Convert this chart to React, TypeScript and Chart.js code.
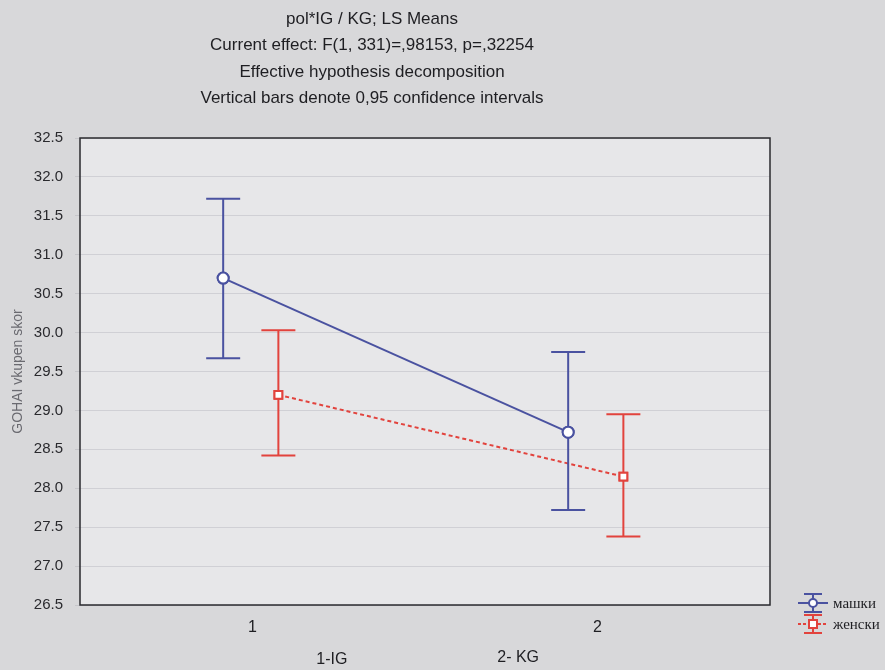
import React, { useEffect, useRef } from "react";
import { Chart, registerables } from "chart.js";

Chart.register(...registerables);

const titleLines = [
  "pol*IG / KG; LS Means",
  "Current effect: F(1, 331)=,98153, p=,32254",
  "Effective hypothesis decomposition",
  "Vertical bars denote 0,95 confidence intervals",
];
const groupPositions = [1, 2];
const groupTicks = ["1", "2"];
const groupNames = ["1-IG", "2- KG"];
const seriesNames = ["машки", "женски"];
const maleMeans = [30.7, 28.72];
const maleLow = [29.67, 27.72];
const maleHigh = [31.72, 29.75];
const femaleMeans = [29.2, 28.15];
const femaleLow = [28.42, 27.38];
const femaleHigh = [30.03, 28.95];
const seriesOffsets = [-0.085, 0.075];
const yTitle = "GOHAI vkupen skor";

const BLUE = "#4a52a0";
const RED = "#e2433d";

export default function App() {
  const ref = useRef<HTMLCanvasElement>(null);
  useEffect(() => {
    document.body.style.margin = "0";
    document.body.style.background = "#d8d8da";
    const lows = [maleLow, femaleLow];
    const highs = [maleHigh, femaleHigh];
    const colors = [BLUE, RED];
    const errPlugin = {
      id: "extras",
      beforeDraw(chart: any) {
        const { ctx, chartArea: a } = chart;
        ctx.save();
        ctx.fillStyle = "#e7e7e9";
        ctx.fillRect(a.left, a.top, a.right - a.left, a.bottom - a.top);
        ctx.restore();
      },
      afterDatasetsDraw(chart: any) {
        const { ctx } = chart;
        const xs = chart.scales.x;
        const ys = chart.scales.y;
        ctx.save();
        chart.data.datasets.forEach((ds: any, i: number) => {
          ctx.strokeStyle = colors[i];
          ctx.lineWidth = 2;
          ds.data.forEach((p: any, j: number) => {
            const x = xs.getPixelForValue(p.x);
            const y1 = ys.getPixelForValue(lows[i][j]);
            const y2 = ys.getPixelForValue(highs[i][j]);
            ctx.beginPath();
            ctx.moveTo(x, y1);
            ctx.lineTo(x, y2);
            ctx.moveTo(x - 17, y1);
            ctx.lineTo(x + 17, y1);
            ctx.moveTo(x - 17, y2);
            ctx.lineTo(x + 17, y2);
            ctx.stroke();
          });
        });
        ctx.restore();
        chart.data.datasets.forEach((_: any, i: number) => {
          const meta = chart.getDatasetMeta(i);
          meta.data.forEach((el: any) => el.draw(ctx, chart.chartArea));
        });
      },
      afterDraw(chart: any) {
        const { ctx, chartArea: a } = chart;
        ctx.save();
        ctx.strokeStyle = "#2a2a2e";
        ctx.lineWidth = 1.5;
        ctx.strokeRect(a.left, a.top, a.right - a.left, a.bottom - a.top);
        ctx.fillStyle = "#1e1e22";
        ctx.font = "17px 'Liberation Sans', Arial, sans-serif";
        ctx.textAlign = "center";
        ctx.textBaseline = "middle";
        titleLines.forEach((t, i) => ctx.fillText(t, 372, 19 + i * 26.5));
        const xs = chart.scales.x;
        ctx.font = "16px 'Liberation Sans', Arial, sans-serif";
        ctx.fillText(groupNames[0], xs.getPixelForValue(1.23), 660);
        ctx.fillText(groupNames[1], xs.getPixelForValue(1.77), 658);
        ctx.textAlign = "left";
        ctx.font = "15px 'Liberation Serif', serif";
        const lx = 798;
        [603, 624].forEach((ly, i) => {
          ctx.strokeStyle = colors[i];
          ctx.lineWidth = 2;
          ctx.setLineDash(i === 1 ? [3, 2] : []);
          ctx.beginPath();
          ctx.moveTo(lx, ly);
          ctx.lineTo(lx + 30, ly);
          ctx.stroke();
          ctx.setLineDash([]);
          ctx.beginPath();
          ctx.moveTo(lx + 15, ly - 9);
          ctx.lineTo(lx + 15, ly + 9);
          ctx.moveTo(lx + 6, ly - 9);
          ctx.lineTo(lx + 24, ly - 9);
          ctx.moveTo(lx + 6, ly + 9);
          ctx.lineTo(lx + 24, ly + 9);
          ctx.stroke();
          ctx.fillStyle = "#ffffff";
          if (i === 0) {
            ctx.beginPath();
            ctx.arc(lx + 15, ly, 4, 0, Math.PI * 2);
            ctx.fill();
            ctx.stroke();
          } else {
            ctx.fillRect(lx + 11, ly - 4, 8, 8);
            ctx.strokeRect(lx + 11, ly - 4, 8, 8);
          }
          ctx.fillStyle = "#1e1e22";
          ctx.fillText(seriesNames[i], lx + 35, ly + 1);
        });
        ctx.restore();
      },
    };
    const chart = new Chart(ref.current!, {
      type: "line",
      data: {
        datasets: [
          {
            label: seriesNames[0],
            data: groupPositions.map((g, j) => ({ x: g + seriesOffsets[0], y: maleMeans[j] })),
            borderColor: BLUE,
            borderWidth: 2,
            pointStyle: "circle",
            pointRadius: 5.5,
            pointBorderWidth: 2,
            pointBackgroundColor: "#ffffff",
            pointBorderColor: BLUE,
          },
          {
            label: seriesNames[1],
            data: groupPositions.map((g, j) => ({ x: g + seriesOffsets[1], y: femaleMeans[j] })),
            borderColor: RED,
            borderWidth: 2,
            borderDash: [4, 3],
            pointStyle: "rect",
            pointRadius: 5.5,
            pointBorderWidth: 2,
            pointBackgroundColor: "#ffffff",
            pointBorderColor: RED,
          },
        ],
      },
      options: {
        animation: false,
        responsive: false,
        layout: { padding: { top: 138, right: 115, bottom: 0, left: 0 } },
        plugins: { legend: { display: false }, tooltip: { enabled: false }, title: { display: false } },
        scales: {
          x: {
            type: "linear",
            min: 0.5,
            max: 2.5,
            afterBuildTicks: (s: any) => {
              s.ticks = groupPositions.map((v) => ({ value: v }));
            },
            ticks: {
              callback: (v: any) => groupTicks[groupPositions.indexOf(Number(v))] ?? "",
              color: "#1e1e22",
              font: { size: 16, family: "'Liberation Sans', Arial, sans-serif" },
              padding: 8,
            },
            grid: { display: false, drawTicks: true, tickLength: 5 },
            border: { display: false },
            afterFit: (s: any) => {
              s.height = 65;
            },
          },
          y: {
            min: 26.5,
            max: 32.5,
            ticks: {
              stepSize: 0.5,
              callback: (v: any) => Number(v).toFixed(1),
              color: "#2a2a2e",
              font: { size: 15, family: "'Liberation Sans', Arial, sans-serif" },
              padding: 12,
            },
            grid: { color: "rgba(150,150,160,0.28)", tickLength: 5 },
            border: { display: false },
            title: {
              display: true,
              text: yTitle,
              color: "#6a6a70",
              font: { size: 14, family: "'Liberation Sans', Arial, sans-serif" },
              padding: { top: 10, bottom: 0 },
            },
            afterFit: (s: any) => {
              s.width = 80;
            },
          },
        },
      },
      plugins: [errPlugin],
    } as any);
    return () => chart.destroy();
  }, []);
  return <canvas ref={ref} width={885} height={670} style={{ display: "block" }} />;
}
